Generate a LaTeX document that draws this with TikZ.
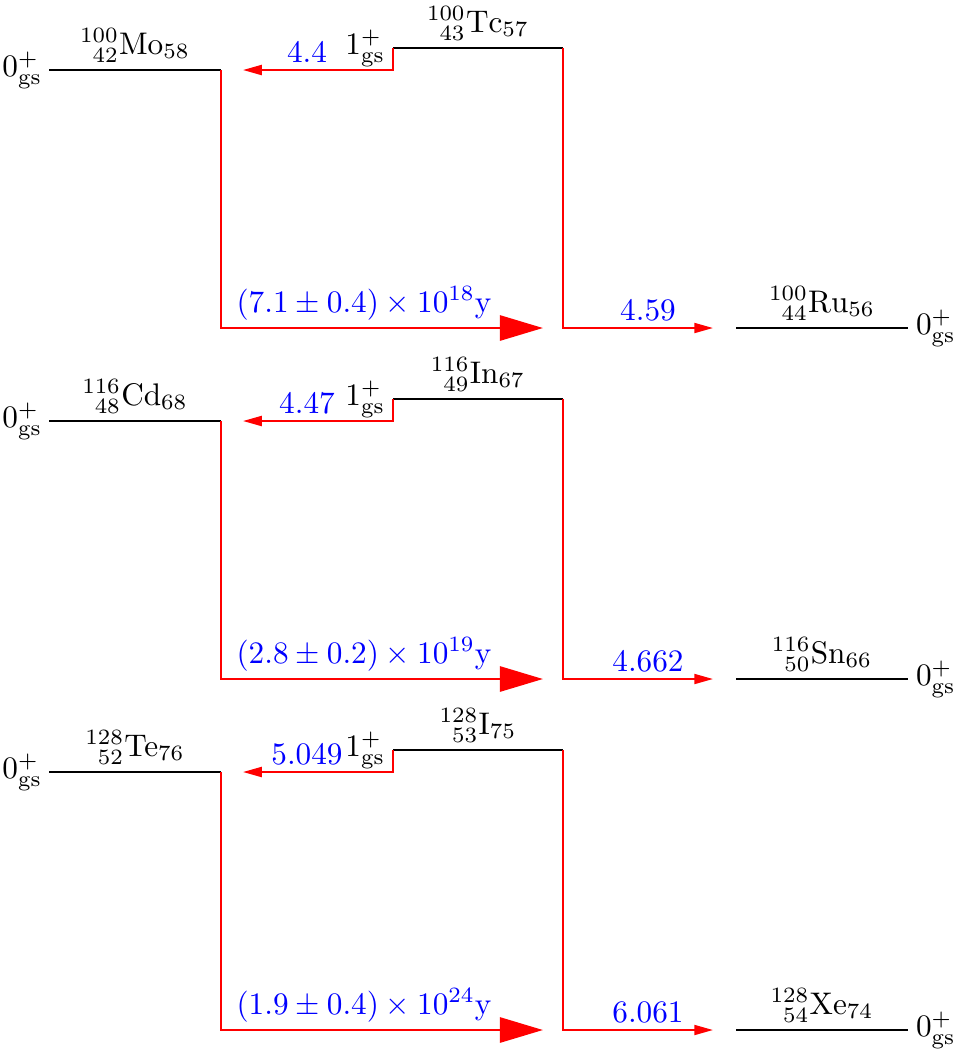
\documentclass[tikz,border=0pt]{standalone}
\usetikzlibrary{arrows.meta}
\newcommand\nuc[4]{${}^{#1}_{\hphantom{0}#2}\mathrm{#3}_{#4}$}
\tikzset{
  lev/.style={black, line width=0.65pt},
  tr/.style={red, line width=0.6pt, -{Triangle[length=6pt,width=3.2pt]}},
  big/.style={red, line width=0.95pt, -{Triangle[length=13.8pt,width=8pt]}},
  iso/.style={anchor=south, inner sep=0pt, outer sep=0pt},
  spinL/.style={anchor=east, inner sep=0pt, outer sep=0pt},
  spinR/.style={anchor=west, inner sep=0pt, outer sep=0pt},
  val/.style={blue, anchor=base, inner sep=0pt, outer sep=0pt},
}
\begin{document}
\begin{tikzpicture}[x=0.32pt, y=-0.32pt]
\useasboundingbox (0,0) rectangle (957,1055);

% ---------------- block 1 : Mo / Tc / Ru
\coordinate (moL) at (49,70);  \coordinate (moR) at (221,70);
\coordinate (tcL) at (393,48); \coordinate (tcR) at (563,48);
\coordinate (ruL) at (736,328); \coordinate (ruR) at (908,328);
\coordinate (tcK) at (393,70); \coordinate (tipA) at (243,70);
\coordinate (moK) at (221,328); \coordinate (tipB) at (543,328);
\coordinate (tcJ) at (563,328); \coordinate (tipC) at (713,328);
\draw[lev] (moL) -- (moR);
\draw[lev] (tcL) -- (tcR);
\draw[lev] (ruL) -- (ruR);
\draw[tr] (tcL) -- (tcK) -- (tipA);
\draw[tr] (tcR) -- (tcJ) -- (tipC);
\draw[big] (moR) -- (moK) -- (tipB);
\node[spinL] (moS) at (42,70) {$0^+_{\mathrm{gs}}$};
\node[iso] (moT) at (135,62) {\nuc{100}{42}{Mo}{58}};
\node[spinL] (tcS) at (385,48) {$1^+_{\mathrm{gs}}$};
\node[iso] (tcT) at (478,40) {\nuc{100}{43}{Tc}{57}};
\node[val] (qA) at (307,62) {4.4};
\node[val] (hA) at (364,312) {$(7.1\pm0.4)\times10^{18}$y};
\node[val] (qB) at (648,320) {4.59};
\node[iso] (ruT) at (822,320) {\nuc{100}{44}{Ru}{56}};
\node[spinR] (ruS) at (916,328) {$0^+_{\mathrm{gs}}$};

% ---------------- block 2 : Cd / In / Sn
\coordinate (cdL) at (49,421);  \coordinate (cdR) at (221,421);
\coordinate (inL) at (393,399); \coordinate (inR) at (563,399);
\coordinate (snL) at (736,679); \coordinate (snR) at (908,679);
\coordinate (inK) at (393,421); \coordinate (tipD) at (243,421);
\coordinate (cdK) at (221,679); \coordinate (tipE) at (543,679);
\coordinate (inJ) at (563,679); \coordinate (tipF) at (713,679);
\draw[lev] (cdL) -- (cdR);
\draw[lev] (inL) -- (inR);
\draw[lev] (snL) -- (snR);
\draw[tr] (inL) -- (inK) -- (tipD);
\draw[tr] (inR) -- (inJ) -- (tipF);
\draw[big] (cdR) -- (cdK) -- (tipE);
\node[spinL] (cdS) at (42,421) {$0^+_{\mathrm{gs}}$};
\node[iso] (cdT) at (135,413) {\nuc{116}{48}{Cd}{68}};
\node[spinL] (inS) at (385,399) {$1^+_{\mathrm{gs}}$};
\node[iso] (inT) at (478,391) {\nuc{116}{49}{In}{67}};
\node[val] (qD) at (307,413) {4.47};
\node[val] (hB) at (364,663) {$(2.8\pm0.2)\times10^{19}$y};
\node[val] (qE) at (648,671) {4.662};
\node[iso] (snT) at (822,671) {\nuc{116}{50}{Sn}{66}};
\node[spinR] (snS) at (916,679) {$0^+_{\mathrm{gs}}$};

% ---------------- block 3 : Te / I / Xe
\coordinate (teL) at (49,772);  \coordinate (teR) at (221,772);
\coordinate (iL) at (393,750); \coordinate (iR) at (563,750);
\coordinate (xeL) at (736,1030); \coordinate (xeR) at (908,1030);
\coordinate (iK) at (393,772); \coordinate (tipG) at (243,772);
\coordinate (teK) at (221,1030); \coordinate (tipH) at (543,1030);
\coordinate (iJ) at (563,1030); \coordinate (tipI) at (713,1030);
\draw[lev] (teL) -- (teR);
\draw[lev] (iL) -- (iR);
\draw[lev] (xeL) -- (xeR);
\draw[tr] (iL) -- (iK) -- (tipG);
\draw[tr] (iR) -- (iJ) -- (tipI);
\draw[big] (teR) -- (teK) -- (tipH);
\node[spinL] (teS) at (42,772) {$0^+_{\mathrm{gs}}$};
\node[iso] (teT) at (135,764) {\nuc{128}{52}{Te}{76}};
\node[spinL] (iS) at (385,750) {$1^+_{\mathrm{gs}}$};
\node[iso] (iT) at (478,742) {\nuc{128}{53}{I}{75}};
\node[val] (qG) at (307,764) {5.049};
\node[val] (hC) at (364,1014) {$(1.9\pm0.4)\times10^{24}$y};
\node[val] (qH) at (648,1022) {6.061};
\node[iso] (xeT) at (822,1022) {\nuc{128}{54}{Xe}{74}};
\node[spinR] (xeS) at (916,1030) {$0^+_{\mathrm{gs}}$};
\end{tikzpicture}
\end{document}
